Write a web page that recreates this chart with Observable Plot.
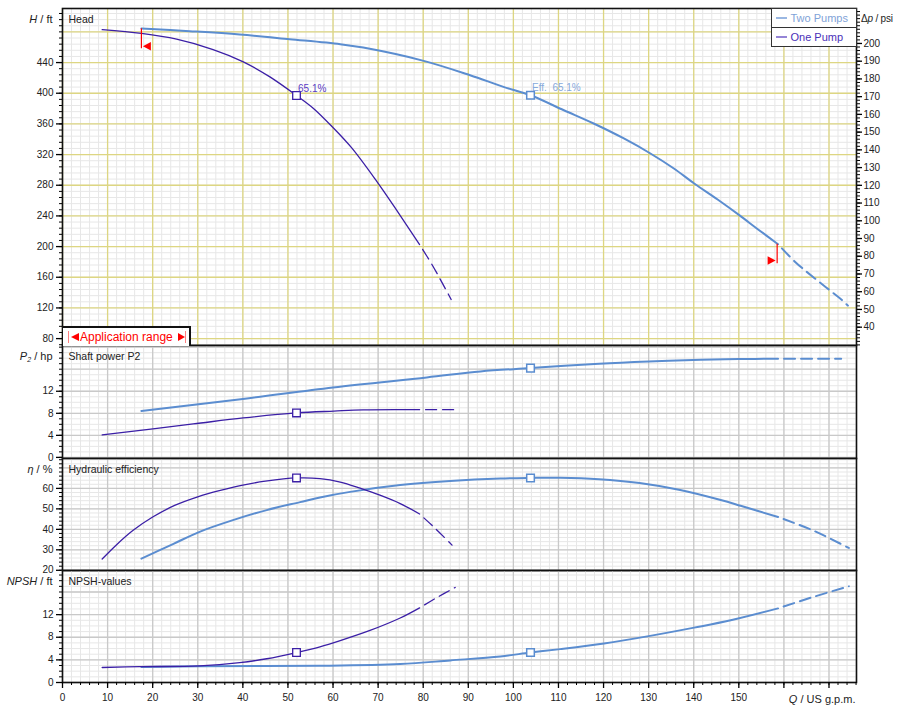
<!DOCTYPE html>
<html><head><meta charset="utf-8">
<script src="https://cdn.jsdelivr.net/npm/d3@7"></script>
<script src="https://cdn.jsdelivr.net/npm/@observablehq/plot@0.6"></script>
<style>
body{margin:0;background:#fff;font-family:"Liberation Sans",Arial,Helvetica,sans-serif;}
#wrap{position:relative;width:897px;height:707px;overflow:hidden;background:#fff;}
.lbl{position:absolute;font-size:11px;line-height:12px;color:#222;white-space:nowrap;}
</style></head><body><div id="wrap"></div>
<script>
// ---------- DATA ----------
// Q in US g.p.m.
const qTickLabels = [0,10,20,30,40,50,60,70,80,90,100,110,120,130,140,150];
const headTickLabels = [80,120,160,200,240,280,320,360,400,440];
const psiTickLabels = [40,50,60,70,80,90,100,110,120,130,140,150,160,170,180,190,200];
const powerTickLabels = [0,4,8,12];
const effTickLabels = [20,30,40,50,60];
const npshTickLabels = [0,4,8,12];

const seriesNames = ["Two Pumps", "One Pump"];

// Head H / ft : [Q, H]
const oneHead = [[8.8,483],[17.5,478],[25.3,470.5],[33.4,457],[40.1,441],[46,421.3],[51.9,397],[55.6,380.5],[59.7,357],[64.1,329],[69.7,285],[74.1,247.5],[79.2,202.7],[82,176],[84,155],[86.2,131]];
const twoHead = [[17.5,484.4],[28.2,480.9],[39.3,476.6],[50.4,470.5],[61.6,464],[66.7,459.5],[80.1,442.2],[90.4,423.5],[97.8,408.3],[103.8,397.4],[111.2,377.8],[117.8,360.5],[124.5,341],[130.4,321.4],[135.6,301.8],[140.1,282.3],[145.3,261.4],[150.1,241],[154.2,222.7],[158.7,203.1],[162.5,180],[166.8,158.8],[172.8,130.6],[174.2,123]];
// Shaft power P2 / hp
const onePower = [[8.8,4.07],[29,6.07],[40.1,7.16],[51.9,8.07],[60.2,8.4],[66.7,8.62],[79.2,8.65],[87.1,8.65]];
const twoPower = [[17.5,8.43],[40,10.6],[60,12.7],[80.8,14.5],[92.7,15.6],[103.8,16.2],[119,17.0],[130,17.4],[141.6,17.7],[150,17.85],[158.7,17.88],[172.7,17.88]];
// Hydraulic efficiency eta / %
const oneEff = [[8.8,25.5],[12,32.5],[15.6,39.4],[20,46],[25,51.8],[30,55.9],[35,59],[40,61.6],[45,63.5],[51.9,65.1],[57.1,64.8],[61.6,63.1],[66,60.1],[70.4,56.7],[74.9,52.6],[79.2,47.5],[82.6,40.6],[86.4,32.3]];
const twoEff = [[17.5,25.7],[24.5,32.8],[30.4,38.8],[37.8,44.5],[45.3,49.4],[52.7,53.3],[57.1,55.6],[63.8,58.3],[74.9,61.6],[86,63.6],[97.1,64.8],[103.8,65.1],[110.4,65.2],[119,64.5],[128,62.6],[137,59.2],[146,54.3],[150.4,51.5],[158.7,46],[166.4,39.5],[174.4,30.9]];
// NPSH / ft
const oneNpsh = [[8.8,2.65],[17.1,2.8],[30.4,2.93],[39.3,3.5],[45.3,4.2],[51.9,5.3],[57.1,6.3],[61.6,7.4],[68.2,9.2],[74.9,11.4],[79.2,13.2],[83,15.0],[87.1,16.8]];
const twoNpsh = [[17.5,2.75],[30.4,2.88],[57.1,2.95],[74.9,3.25],[86,3.9],[97.1,4.6],[103.8,5.3],[110.4,5.9],[120.1,6.9],[130,8.2],[140.1,9.7],[148.2,11.0],[158.7,13.1],[166.4,15.1],[174.4,17.0]];

// end of the solid (application range) part of each curve
const oneRangeEnd = 79.2;
const twoRangeEnd = 158.7;
// best efficiency points
const oneBep = {q:51.9, head:397, power:8.07, eff:65.1, npsh:5.3};
const twoBep = {q:103.8, head:397.4, power:16.2, eff:65.1, npsh:5.3};
// application range markers (Q, head span)
const appStart = {q:17.5, h1:458, h2:484, hMark:461.3};
const appEnd = {q:158.5, h1:177.5, h2:203, hMark:181.9};

// ---------- STYLE ----------
const FONT = '"Liberation Sans", Arial, Helvetica, sans-serif';
const TWO = "#5b8dd0", ONE = "#3b1fa6";
const YELLOW = "#ddd682", MINOR = "#e7e7e7", MAJOR = "#c9c9c9";
const PSI_K = 2.3125, PSI_B = 2.4;
const X_DOMAIN = [0, 176.1];
const xGridMajor = d3.range(0, 177, 10);
const xGridMinor = d3.range(0, 177, 2);

const wrap = document.getElementById("wrap");

const leftTri = {draw(c){c.moveTo(-4,0);c.lineTo(4,-4.3);c.lineTo(4,4.3);c.closePath();}};
const rightTri = {draw(c){c.moveTo(4,0);c.lineTo(-4,-4.3);c.lineTo(-4,4.3);c.closePath();}};

function curve(pts, end, color, width) {
  const solid = pts.filter(d => d[0] <= end + 1e-9);
  const dashed = [solid[solid.length - 1], ...pts.filter(d => d[0] > end + 1e-9)];
  return [
    Plot.line(solid, {x: d => d[0], y: d => d[1], stroke: color, strokeWidth: width, curve: "catmull-rom"}),
    Plot.line(dashed, {x: d => d[0], y: d => d[1], stroke: color, strokeWidth: width, curve: "catmull-rom",
      strokeDasharray: "11,6", strokeDashoffset: 11})
  ];
}

function panel({top, height, marginBottom = 0, yDomain, yMajorGrid, yMinorGrid, gridColor, tickLabels, title, key, extra = [], xAxis = false}) {
  const marks = [
    Plot.ruleX(xGridMinor, {stroke: MINOR, strokeWidth: 1}),
    Plot.ruleY(yMinorGrid, {stroke: MINOR, strokeWidth: 1}),
    Plot.ruleX(xGridMajor, {stroke: gridColor, strokeWidth: 1.3}),
    Plot.ruleY(yMajorGrid, {stroke: gridColor, strokeWidth: 1.3}),
    ...curve(key === "head" ? twoHead : key === "power" ? twoPower : key === "eff" ? twoEff : twoNpsh, twoRangeEnd, TWO, 2),
    ...curve(key === "head" ? oneHead : key === "power" ? onePower : key === "eff" ? oneEff : oneNpsh, oneRangeEnd, ONE, 1.3),
    Plot.dot([oneBep], {x: "q", y: key, symbol: "square", r: 4.3, fill: "white", stroke: ONE, strokeWidth: 1.3}),
    Plot.dot([twoBep], {x: "q", y: key, symbol: "square", r: 4.3, fill: "white", stroke: TWO, strokeWidth: 1.5}),
    ...extra,
    Plot.frame({stroke: "#111", strokeWidth: 1.6}),
    Plot.axisY(tickLabels, {anchor: "left", tickSize: 6, tickPadding: 3, label: null, fontSize: 10, fill: "#222", strokeWidth: 1.3}),
    Plot.axisY(yMinorGrid, {anchor: "left", tickSize: 3, tickFormat: () => "", label: null}),
    Plot.text([title], {text: d => d, frameAnchor: "top-left", dx: 6, dy: 11, textAnchor: "start", lineAnchor: "middle", fontSize: 10.5, fill: "#222"})
  ];
  if (xAxis) {
    marks.push(
      Plot.axisX(xGridMinor, {anchor: "bottom", tickSize: 3, tickFormat: () => "", label: null}),
      Plot.axisX([160, 170], {anchor: "bottom", tickSize: 6, tickFormat: () => "", label: null, strokeWidth: 1.3}),
      Plot.axisX(qTickLabels, {anchor: "bottom", tickSize: 6, tickPadding: 5, label: null, fontSize: 10, fill: "#222", strokeWidth: 1.3})
    );
  }
  const svg = Plot.plot({
    width: 897, height, marginLeft: 62, marginRight: 41, marginTop: 0, marginBottom,
    x: {domain: X_DOMAIN, axis: null},
    y: {domain: yDomain, axis: null},
    style: {fontFamily: FONT, fontSize: "10px", background: "transparent", overflow: "visible"},
    marks
  });
  svg.style.position = "absolute";
  svg.style.left = "0px";
  svg.style.top = top + "px";
  svg.style.overflow = "visible";
  wrap.appendChild(svg);
}

// Head panel
panel({
  top: 8, height: 337, yDomain: [71, 510.5], key: "head", title: "Head",
  yMajorGrid: d3.range(80, 511, 40), yMinorGrid: d3.range(72, 511, 8), gridColor: YELLOW,
  tickLabels: headTickLabels,
  extra: [
    Plot.text([{q: oneBep.q, h: oneBep.head, t: oneBep.eff.toFixed(1) + "%"}], {x: "q", y: "h", text: "t", dx: 1.5, dy: -7, textAnchor: "start", fill: "#5a3cc4", fontSize: 10}),
    Plot.text([{q: twoBep.q, h: twoBep.head, t: "Eff.  " + twoBep.eff.toFixed(1) + "%"}], {x: "q", y: "h", text: "t", dx: 1.5, dy: -7, textAnchor: "start", fill: "#86a9dc", fontSize: 10}),
    Plot.ruleX([appStart], {x: "q", y1: "h1", y2: "h2", stroke: "red", strokeWidth: 1.2}),
    Plot.dot([appStart], {x: "q", y: "hMark", dx: 5.5, symbol: leftTri, r: 4, fill: "red", stroke: "none"}),
    Plot.ruleX([appEnd], {x: "q", y1: "h1", y2: "h2", stroke: "red", strokeWidth: 1.2}),
    Plot.dot([appEnd], {x: "q", y: "hMark", dx: -5.5, symbol: rightTri, r: 4, fill: "red", stroke: "none"}),
    Plot.axisY(psiTickLabels.map(p => p * PSI_K + PSI_B), {anchor: "right", tickSize: 5, tickPadding: 2, label: null, fontSize: 10, fill: "#222", strokeWidth: 1.3,
      tickFormat: d => String(Math.round((d - PSI_B) / PSI_K))}),
    Plot.axisY(d3.range(30, 220, 2).map(p => p * PSI_K + PSI_B), {anchor: "right", tickSize: 3, tickFormat: () => "", label: null})
  ]
});
// Shaft power panel
panel({
  top: 345, height: 113, yDomain: [-0.2, 20.3], key: "power", title: "Shaft power P2",
  yMajorGrid: d3.range(0, 21, 4), yMinorGrid: d3.range(0, 21, 1), gridColor: MAJOR,
  tickLabels: powerTickLabels
});
// Efficiency panel
panel({
  top: 458, height: 112, yDomain: [19.9, 74.6], key: "eff", title: "Hydraulic efficiency",
  yMajorGrid: d3.range(20, 75, 10), yMinorGrid: d3.range(20, 75, 2), gridColor: MAJOR,
  tickLabels: effTickLabels
});
// NPSH panel
panel({
  top: 570, height: 137, marginBottom: 25, yDomain: [0, 19.8], key: "npsh", title: "NPSH-values",
  yMajorGrid: d3.range(0, 20, 4), yMinorGrid: d3.range(0, 20, 1), gridColor: MAJOR,
  tickLabels: npshTickLabels, xAxis: true
});

// ---------- axis titles, legend, application range ----------
function label(html, css) {
  const d = document.createElement("div");
  d.className = "lbl";
  d.innerHTML = html;
  Object.assign(d.style, css);
  wrap.appendChild(d);
  return d;
}
label("<i>H</i> / ft", {right: (897 - 52.5) + "px", top: "12.5px"});
label("<i>P</i><sub style='font-size:7px;vertical-align:-2px'><i>2</i></sub> / hp", {right: (897 - 52.5) + "px", top: "350px"});
label("<i>η</i> / %", {right: (897 - 52.5) + "px", top: "463px"});
label("<i>NPSH</i> / ft", {right: (897 - 52.5) + "px", top: "575px"});
label("Δ<i>p</i> / psi", {left: "861px", top: "13px", fontSize: "10px", letterSpacing: "-0.2px"});
label("<i>Q</i> / US g.p.m.", {right: (897 - 855.5) + "px", top: "693px"});

// legend
const lg = document.createElement("div");
Object.assign(lg.style, {position: "absolute", left: "770.5px", top: "8px", width: "86px", height: "38.5px",
  border: "1px solid #333", background: "#fff", boxSizing: "border-box", fontSize: "11px", fontFamily: FONT});
const legendColors = {"Two Pumps": ["#9ab7e2", "#7fa3d8"], "One Pump": ["#9585d6", "#4a2fb8"]};
seriesNames.forEach((name, i) => {
  const row = document.createElement("div");
  Object.assign(row.style, {height: i === 0 ? "19px" : "17.5px", display: "flex", alignItems: "center", paddingLeft: "4px",
    borderBottom: i === 0 ? "1px solid #333" : "none", boxSizing: "border-box", whiteSpace: "nowrap"});
  row.innerHTML = `<span style="display:inline-block;width:11px;height:1.5px;background:${legendColors[name][0]};margin-right:4px"></span><span style="color:${legendColors[name][1]}">${name}</span>`;
  lg.appendChild(row);
});
wrap.appendChild(lg);

// application range box
const ar = document.createElement("div");
Object.assign(ar.style, {position: "absolute", left: "62px", top: "326px", width: "129px", height: "19.5px",
  borderTop: "2px solid #111", borderRight: "2px solid #111", borderLeft: "1px solid #111", background: "#fff", boxSizing: "border-box",
  fontSize: "12px", fontFamily: FONT, color: "#ff0000", display: "flex", alignItems: "center", paddingLeft: "5px", whiteSpace: "nowrap"});
ar.innerHTML = `<span style="display:inline-block;width:1px;height:12px;background:#ff8080;margin-right:2px"></span>` +
  `<span style="display:inline-block;width:0;height:0;border-top:4.5px solid transparent;border-bottom:4.5px solid transparent;border-right:8px solid #ff0000;margin-right:1px"></span>` +
  `<span>Application range</span>` +
  `<span style="display:inline-block;width:0;height:0;border-top:4.5px solid transparent;border-bottom:4.5px solid transparent;border-left:7px solid #ff0000;margin-left:5px"></span>` +
  `<span style="display:inline-block;width:1px;height:12px;background:#ff8080;"></span>`;
wrap.appendChild(ar);
</script></body></html>
